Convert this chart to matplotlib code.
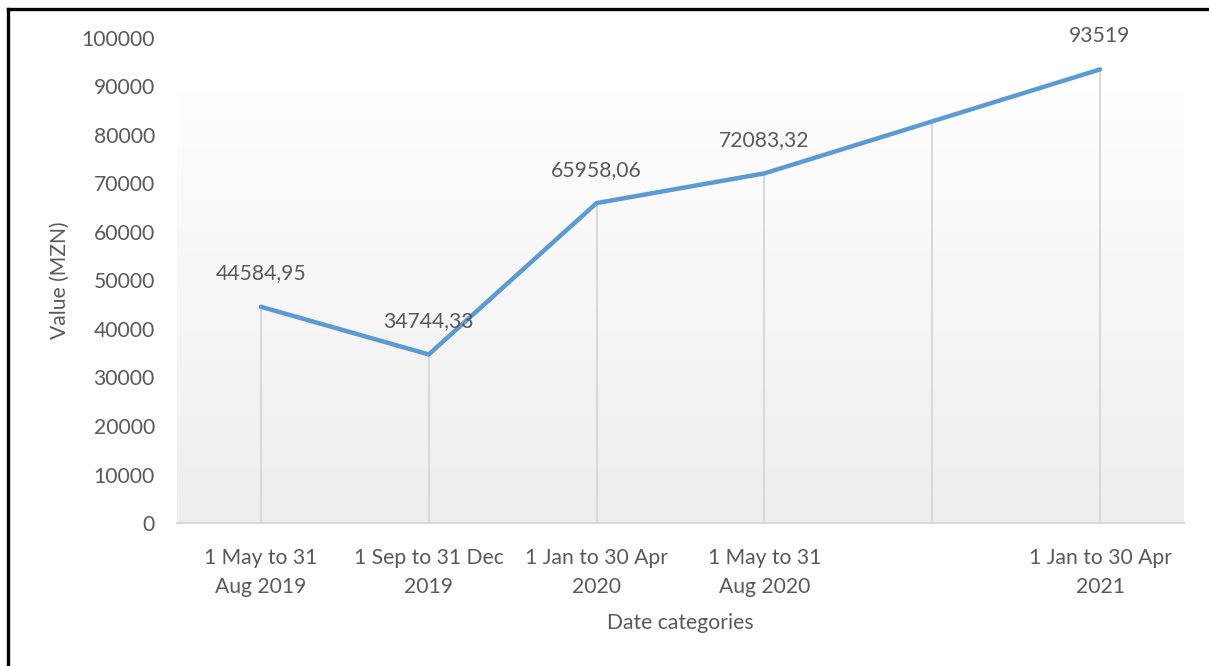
import numpy as np
import matplotlib.pyplot as plt
from matplotlib.lines import Line2D
from matplotlib.colors import LinearSegmentedColormap

periods = ["1 May to 31\nAug 2019", "1 Sep to 31 Dec\n2019", "1 Jan to 30 Apr\n2020",
           "1 May to 31\nAug 2020", "", "1 Jan to 30 Apr\n2021"]
values = [44584.95, 34744.33, 65958.06, 72083.32, 82800, 93519]
point_labels = ["44584,95", "34744,33", "65958,06", "72083,32", "", "93519"]
yticks = list(range(0, 100001, 10000))

txt = '#595959'
fs = 15.2
plt.rcParams['font.family'] = ['Lato', 'DejaVu Sans']

fig = plt.figure(figsize=(12.09, 6.66), dpi=100)
ax = fig.add_axes([0.1464, 0.2147, 0.8329, 0.7283])

x = np.arange(len(values))

# plot area fill: white at the top fading to light grey
grad = np.linspace(0, 1, 256).reshape(-1, 1)
cmap = LinearSegmentedColormap.from_list('fill', ['#fefefe', '#eeeeee'])
ax.imshow(grad, aspect='auto', cmap=cmap, extent=[0, 1, 0, 0.887],
          transform=ax.transAxes, origin='upper', zorder=0)

# drop lines from each point to the axis
ax.vlines(x, 0, values, color='#d9d9d9', lw=1.5, zorder=1)
ax.plot(x, values, color='#5b9bd5', lw=3.2, solid_capstyle='round',
        solid_joinstyle='round', zorder=3)

for xi, v, lab in zip(x, values, point_labels):
    if lab:
        ax.annotate(lab, (xi, v), xytext=(0, 24), textcoords='offset points',
                    ha='center', va='center', fontsize=fs, color=txt, zorder=4)

ax.set_xlim(-0.5, len(values) - 0.5)
ax.set_ylim(0, 100000)
ax.set_yticks(yticks)
ax.set_yticklabels([str(t) for t in yticks])
ax.set_xticks(x)
ax.set_xticklabels(periods, linespacing=1.55)
ax.tick_params(axis='y', length=0, pad=16, labelsize=fs, labelcolor=txt)
ax.tick_params(axis='x', length=0, pad=18, labelsize=fs, labelcolor=txt)

for s in ['top', 'right', 'left']:
    ax.spines[s].set_visible(False)
ax.spines['bottom'].set_color('#d9d9d9')
ax.spines['bottom'].set_linewidth(1.5)
ax.set_facecolor('white')

ax.set_ylabel("Value (MZN)", fontsize=fs, color=txt, labelpad=8)
ax.set_xlabel("Date categories", fontsize=fs, color=txt, labelpad=12)

# frame around the chart
W, H = 1209, 666
fig.add_artist(Line2D([8 / W, 8 / W], [0, 1 - 9 / H], color='black', lw=2.4,
                      transform=fig.transFigure))
fig.add_artist(Line2D([8 / W, 1], [1 - 9 / H, 1 - 9 / H], color='black', lw=2.4,
                      transform=fig.transFigure))

fig.savefig('out.png', dpi=100)
